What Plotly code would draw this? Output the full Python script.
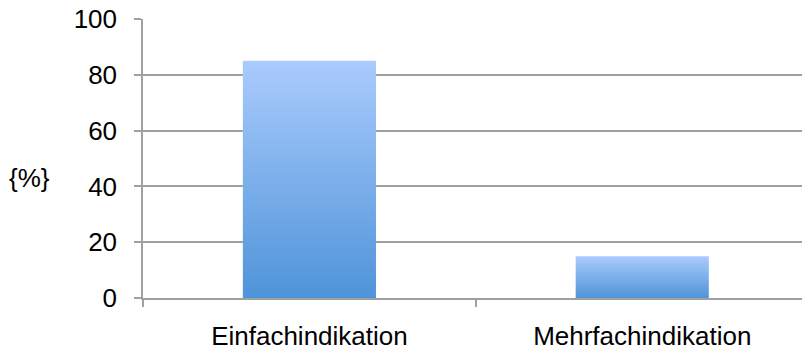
import plotly.graph_objects as go

# Share of indications, in percent
categories = ["Einfachindikation", "Mehrfachindikation"]
values = [85, 15]
y_ticks = [0, 20, 40, 60, 80, 100]
y_unit_label = "{%}"

bar_half_width = 0.2
grid_color = "#a0a0a0"
font = dict(family="Liberation Sans, Arial, sans-serif", size=26, color="#000000")

fig = go.Figure()

# Each bar is a filled rectangle so it can carry its own vertical gradient
for i, (cat, v) in enumerate(zip(categories, values)):
    x0, x1 = i - bar_half_width, i + bar_half_width
    fig.add_trace(go.Scatter(
        x=[x0, x1, x1, x0, x0],
        y=[0, 0, v, v, 0],
        mode="lines",
        fill="toself",
        line=dict(width=0, color="rgba(0,0,0,0)"),
        fillgradient=dict(
            type="vertical",
            colorscale=[[0, "#4f94d9"], [1, "#aacbfd"]],
        ),
        name=cat,
        hoverinfo="skip",
        showlegend=False,
    ))

fig.update_layout(
    width=802,
    height=352,
    margin=dict(l=143, r=0, t=19, b=54),
    paper_bgcolor="white",
    plot_bgcolor="white",
    font=font,
    showlegend=False,
    xaxis=dict(
        range=[-0.5, 1.48],
        tickmode="array",
        tickvals=list(range(len(categories))),
        ticktext=categories,
        ticks="",
        ticklabelstandoff=14,
        showgrid=False,
        zeroline=False,
        showline=True,
        linecolor=grid_color,
        linewidth=1.5,
        minor=dict(
            tickmode="array",
            tickvals=[i - 0.5 for i in range(len(categories) + 1)],
            ticks="outside",
            ticklen=7,
            tickwidth=1.5,
            tickcolor=grid_color,
            showgrid=False,
        ),
        fixedrange=True,
    ),
    yaxis=dict(
        range=[0, 100],
        tickmode="array",
        tickvals=y_ticks,
        ticks="outside",
        ticklen=7,
        tickwidth=1.5,
        tickcolor=grid_color,
        ticklabelstandoff=12,
        showgrid=True,
        gridcolor=grid_color,
        gridwidth=1.5,
        zeroline=False,
        showline=True,
        linecolor=grid_color,
        linewidth=1.5,
        fixedrange=True,
    ),
    annotations=[dict(
        text=y_unit_label,
        xref="paper", yref="paper",
        x=-0.207, y=0.43,
        xanchor="left", yanchor="middle",
        showarrow=False,
        font=font,
    )],
)

fig.write_html("out.html")
